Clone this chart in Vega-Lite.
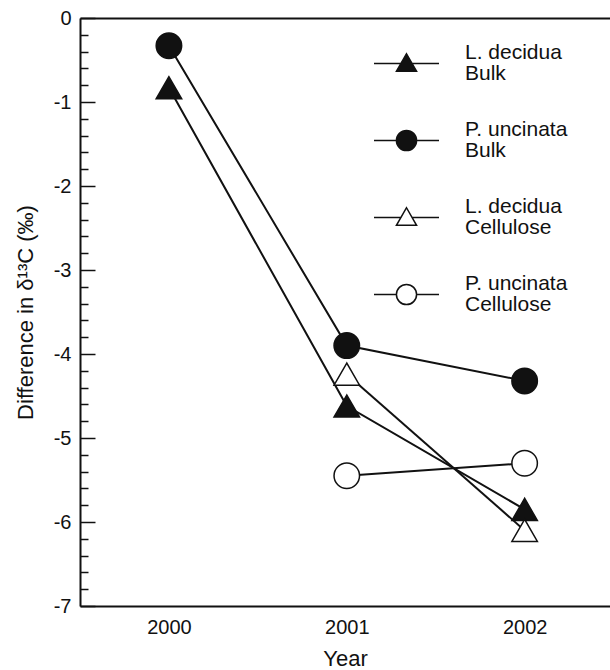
{
  "$schema": "https://vega.github.io/schema/vega-lite/v6.json",
  "autosize": {"type": "none"},
  "width": 530,
  "height": 588,
  "padding": {"left": 80, "top": 18, "right": 0, "bottom": 64},
  "background": "white",
  "config": {
    "view": {"stroke": null},
    "font": "Liberation Sans",
    "axis": {
      "domainColor": "#111",
      "domainWidth": 2,
      "tickColor": "#111",
      "tickWidth": 1.5,
      "labelColor": "#111",
      "titleColor": "#111",
      "labelFont": "Liberation Sans",
      "titleFont": "Liberation Sans",
      "titleFontWeight": "normal",
      "labelFontSize": 20,
      "titleFontSize": 22,
      "grid": false
    }
  },
  "data": {
    "values": [
      {"series": "L. decidua Bulk", "species": "L. decidua", "year": 2000, "value": -0.83},
      {"series": "L. decidua Bulk", "species": "L. decidua", "year": 2001, "value": -4.62},
      {"series": "L. decidua Bulk", "species": "L. decidua", "year": 2002, "value": -5.85},
      {"series": "P. uncinata Bulk", "species": "P. uncinata", "year": 2000, "value": -0.33},
      {"series": "P. uncinata Bulk", "species": "P. uncinata", "year": 2001, "value": -3.9},
      {"series": "P. uncinata Bulk", "species": "P. uncinata", "year": 2002, "value": -4.32},
      {"series": "L. decidua Cellulose", "species": "L. decidua", "year": 2001, "value": -4.24},
      {"series": "L. decidua Cellulose", "species": "L. decidua", "year": 2002, "value": -6.1},
      {"series": "P. uncinata Cellulose", "species": "P. uncinata", "year": 2001, "value": -5.45},
      {"series": "P. uncinata Cellulose", "species": "P. uncinata", "year": 2002, "value": -5.3}
    ]
  },
  "encoding": {
    "y": {
      "field": "value",
      "type": "quantitative",
      "scale": {"domain": [-7, 0], "nice": false, "zero": false},
      "axis": {
        "title": "Difference in δ¹³C (‰)",
        "titlePadding": 16,
        "values": [-7, -6.8, -6.6, -6.4, -6.2, -6, -5.8, -5.6, -5.4, -5.2, -5, -4.8, -4.6, -4.4, -4.2, -4, -3.8, -3.6, -3.4, -3.2, -3, -2.8, -2.6, -2.4, -2.2, -2, -1.8, -1.6, -1.4, -1.2, -1, -0.8, -0.6, -0.4, -0.2, 0],
        "labelExpr": "abs(datum.value - round(datum.value)) < 0.01 ? '' + round(datum.value) : ''",
        "tickSize": {"condition": {"test": "abs(datum.value - round(datum.value)) < 0.01", "value": -15}, "value": -8},
        "labelPadding": 24,
        "labelOverlap": false
      }
    }
  },
  "layer": [
    {
      "mark": {"type": "line", "color": "#111", "strokeWidth": 2},
      "encoding": {
        "x": {
          "field": "year",
          "type": "quantitative",
          "scale": {"domain": [1999.5, 2002.48], "nice": false, "zero": false},
          "axis": {
            "orient": "bottom",
            "values": [2000, 2001, 2002],
            "format": "d",
            "ticks": false,
            "labelPadding": 11,
            "title": "Year",
            "titlePadding": 11
          }
        },
        "detail": {"field": "series"}
      }
    },
    {
      "mark": {"type": "point", "filled": true, "stroke": "#111", "strokeWidth": 1.5, "size": 650, "opacity": 1},
      "encoding": {
        "x": {
          "field": "year",
          "type": "quantitative",
          "axis": {
            "orient": "top",
            "labels": false,
            "ticks": false,
            "title": null,
            "domain": true
          }
        },
        "shape": {
          "field": "species",
          "type": "nominal",
          "scale": {
            "domain": ["L. decidua", "P. uncinata"],
            "range": ["triangle-up", "circle"]
          },
          "legend": null
        },
        "fill": {
          "field": "series",
          "type": "nominal",
          "scale": {
            "domain": ["L. decidua Bulk", "P. uncinata Bulk", "L. decidua Cellulose", "P. uncinata Cellulose"],
            "range": ["#111", "#111", "white", "white"]
          },
          "legend": {
            "orient": "none",
            "legendX": 293,
            "legendY": 12,
            "title": null,
            "padding": 0,
            "symbolSize": 4225,
            "symbolStrokeWidth": 1.5,
            "symbolStrokeColor": "#111",
            "labelFont": "Liberation Sans",
            "labelFontSize": 21,
            "labelColor": "#111",
            "labelOffset": 25,
            "labelLimit": 0,
            "rowPadding": 23,
            "labelExpr": "[slice(datum.label, 0, lastindexof(datum.label, ' ')), slice(datum.label, lastindexof(datum.label, ' ') + 1)]",
            "encoding": {
              "symbols": {
                "shape": {"condition": {"test": "indexof(datum.value, 'L. decidua') == 0", "value": "M-1,0H-0.17M0.17,0H1M0,-0.3L0.31,0.24L-0.31,0.24Z"}, "value": "M-1,0H-0.31M0.31,0H1M0.31,0A0.31,0.31 0 1,1 -0.31,0A0.31,0.31 0 1,1 0.31,0Z"},
                "stroke": {"value": "#111"},
                "strokeWidth": {"value": 1.5},
                "opacity": {"value": 1}
              },
              "labels": {
                "lineHeight": {"value": 21},
                "dy": {"value": -10.5}
              }
            }
          }
        }
      }
    }
  ],
  "resolve": {"axis": {"x": "independent"}}
}
